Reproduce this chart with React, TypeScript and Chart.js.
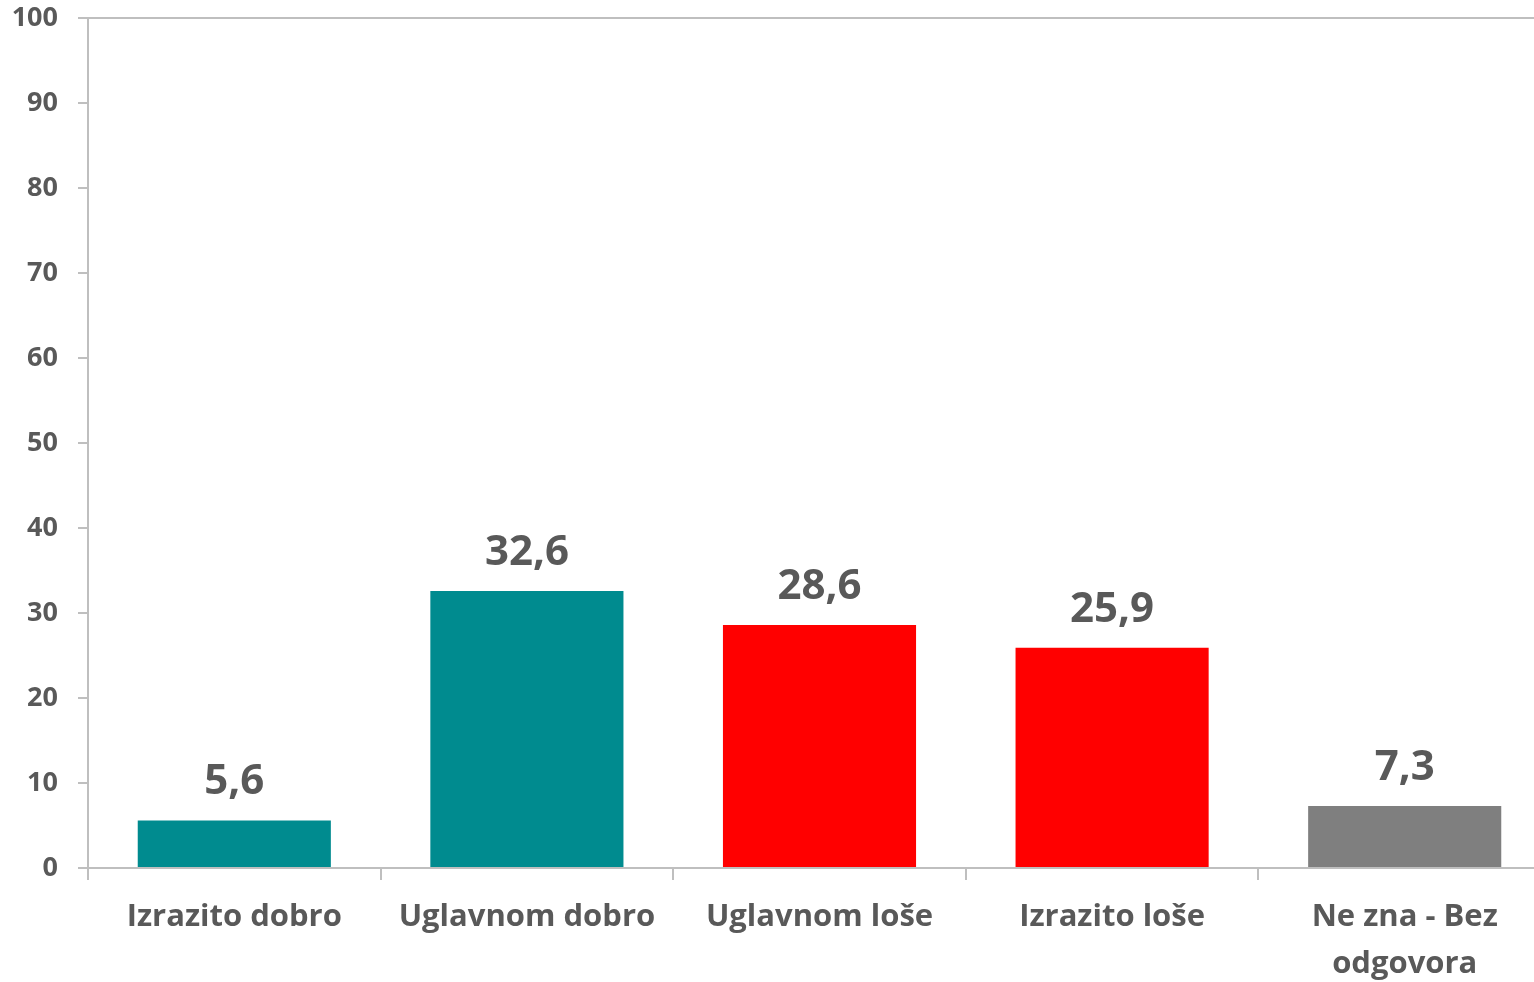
import React, { useEffect, useRef } from "react";
import { Chart, registerables } from "chart.js";

Chart.register(...registerables);

const categories: (string | string[])[] = [
  "Izrazito dobro",
  "Uglavnom dobro",
  "Uglavnom loše",
  "Izrazito loše",
  ["Ne zna - Bez", "odgovora"],
];
const values: number[] = [5.6, 32.6, 28.6, 25.9, 7.3];
const barColors: string[] = ["#008B8F", "#008B8F", "#FF0000", "#FF0000", "#7F7F7F"];
const yTicks: number[] = [0, 10, 20, 30, 40, 50, 60, 70, 80, 90, 100];

const FONT = "'Open Sans', 'DejaVu Sans', sans-serif";
const TEXT = "#595959";
const AXIS = "#BFBFBF";

const valueLabels = {
  id: "valueLabels",
  afterDatasetsDraw(chart: any) {
    const ctx = chart.ctx;
    const meta = chart.getDatasetMeta(0);
    ctx.save();
    ctx.fillStyle = TEXT;
    ctx.font = `bold 42px ${FONT}`;
    ctx.textAlign = "center";
    ctx.textBaseline = "alphabetic";
    meta.data.forEach((el: any, i: number) => {
      const txt = values[i].toFixed(1).replace(".", ",");
      ctx.fillText(txt, el.x, el.y - 26);
    });
    ctx.restore();
  },
};

export default function App() {
  const ref = useRef<HTMLCanvasElement | null>(null);
  useEffect(() => {
    document.body.style.margin = "0";
    document.body.style.overflow = "hidden";
    const chart = new Chart(ref.current as HTMLCanvasElement, {
      type: "bar",
      data: {
        labels: categories,
        datasets: [
          {
            data: values,
            backgroundColor: barColors,
            barPercentage: 0.66,
            categoryPercentage: 1,
          },
        ],
      },
      options: {
        animation: false,
        responsive: false,
        layout: { padding: { top: 18, left: 0, right: 0, bottom: 0 } },
        plugins: { legend: { display: false }, tooltip: { enabled: false } },
        scales: {
          x: {
            offset: true,
            grid: {
              offset: true,
              drawOnChartArea: false,
              drawTicks: true,
              tickLength: 12,
              color: AXIS,
              lineWidth: 2,
            },
            border: { color: AXIS, width: 2 },
            ticks: {
              color: TEXT,
              font: { family: FONT, size: 31, weight: "bold", lineHeight: 1.5 },
              padding: 14,
              maxRotation: 0,
              autoSkip: false,
            },
            afterFit: (s: any) => {
              s.height = 114;
              s.paddingLeft = 0;
              s.paddingRight = 0;
            },
          },
          y: {
            min: 0,
            max: 100,
            afterBuildTicks: (s: any) => {
              s.ticks = yTicks.map((v) => ({ value: v }));
            },
            grid: {
              color: (c: any) => (c.tick && c.tick.value === 100 ? AXIS : "rgba(0,0,0,0)"),
              tickColor: AXIS,
              lineWidth: 2,
              tickLength: 10,
            },
            border: { color: AXIS, width: 2 },
            ticks: {
              color: TEXT,
              font: { family: FONT, size: 27, weight: "bold" },
              padding: 20,
            },
            afterFit: (s: any) => {
              s.width = 88;
              s.paddingTop = 0;
              s.paddingBottom = 0;
            },
          },
        },
      },
      plugins: [valueLabels],
    });
    return () => chart.destroy();
  }, []);
  return (
    <div style={{ position: "absolute", left: 0, top: 0, width: 1551, height: 982 }}>
      <canvas ref={ref} width={1551} height={982} style={{ width: 1551, height: 982 }} />
    </div>
  );
}
